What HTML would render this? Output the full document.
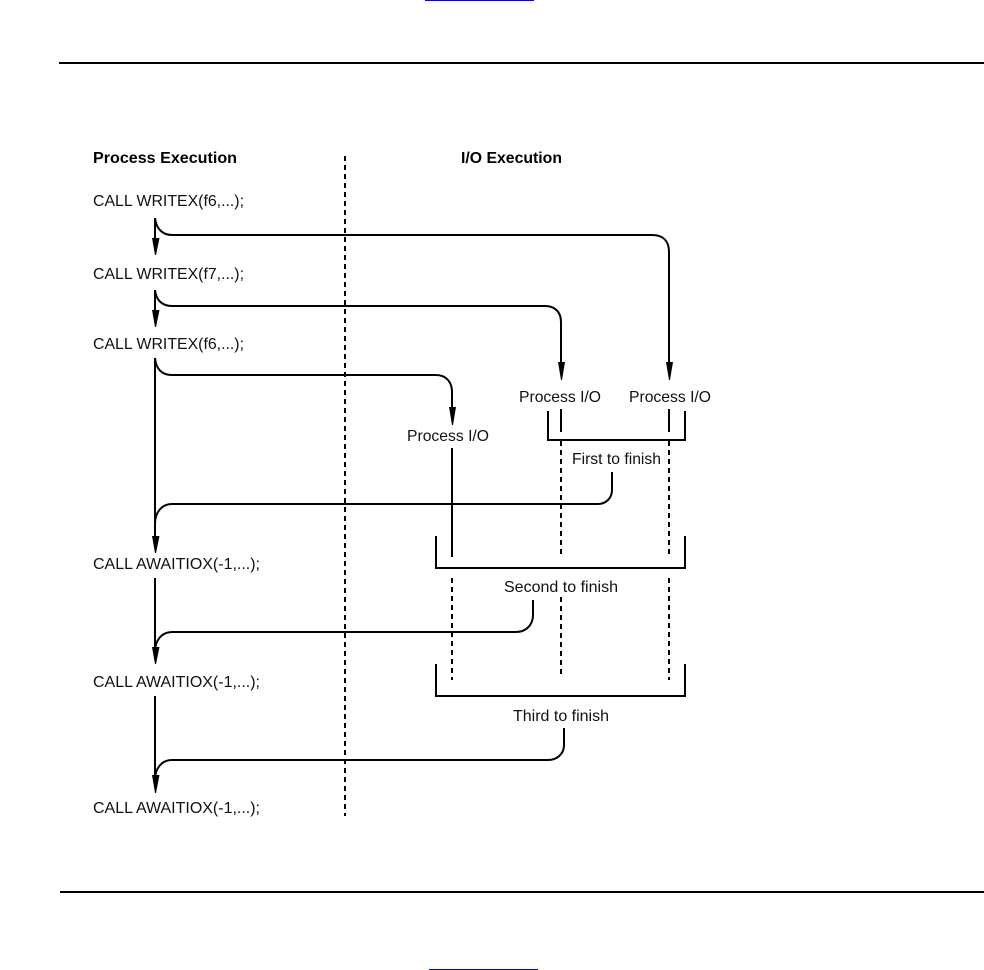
<!DOCTYPE html>
<html><head><meta charset="utf-8"><style>
html,body{margin:0;padding:0;background:#fff}
svg{display:block}
text{font-family:"Liberation Sans",sans-serif;font-size:16px;fill:#111}
.b{font-weight:bold;font-size:15.5px;fill:#000}
</style></head><body>
<svg width="984" height="970" viewBox="0 0 984 970" xmlns="http://www.w3.org/2000/svg">
<rect x="425" y="0" width="109" height="1" fill="#00f"/>
<rect x="429" y="969" width="109" height="1" fill="#00f"/>
<rect x="59" y="62" width="925" height="2" fill="#000"/>
<rect x="60" y="891" width="924" height="2" fill="#000"/>
<line x1="345" y1="156" x2="345" y2="816" stroke="#000" stroke-width="2" stroke-dasharray="5 4"/>
<g fill="none" stroke="#000" stroke-width="2">
<path d="M155 218V245"/>
<path d="M155 218C156 228 162 235 172 235H652C663 235 669 241 669 252V365"/>
<path d="M155 290V315"/>
<path d="M155 290C156 300 162 306 172 306H545C555 306 561 312 561 322V365"/>
<path d="M155 358V540"/>
<path d="M155 358C156 369 162 375 172 375H436C446 375 452 382 452 392V412"/>
<path d="M612 472V490C612 498 606 504 598 504H172C162 504 155 512 155 524"/>
<path d="M155 578V650"/>
<path d="M533 600V615C533 625 526 632 516 632H172C162 632 155 640 155 652"/>
<path d="M155 696V780"/>
<path d="M564 728V745C564 754 557 760 548 760H172C162 760 155 768 155 780"/>
<path d="M548 411V440H685V411"/>
<path d="M436 536V568H685V536"/>
<path d="M436 664V696H685V664"/>
<path d="M452 448V557"/>
<path d="M561 409V432M669 409V432"/>
<path stroke-dasharray="5 4" d="M561 441V555M669 441V555M452 578V680M561 597V675M669 578V680"/>
</g>
<g fill="#000">
<path d="M152 238H159.500L156 255H155Z"/>
<path d="M152 310H159.500L156 327H155Z"/>
<path d="M152 536H159.500L156 553H155Z"/>
<path d="M152 647H159.500L156 664H155Z"/>
<path d="M152 775H159.500L156 793H155Z"/>
<path d="M558 362H565L562 380H561Z"/>
<path d="M666 362H673L670 380H669Z"/>
<path d="M449 407H456L453 425H452Z"/>
</g>
<text class="b" x="93" y="163" textLength="144" lengthAdjust="spacingAndGlyphs">Process Execution</text>
<text class="b" x="461" y="163" textLength="101" lengthAdjust="spacingAndGlyphs">I/O Execution</text>
<text x="93" y="206" textLength="151" lengthAdjust="spacingAndGlyphs">CALL WRITEX(f6,...);</text>
<text x="93" y="279" textLength="151" lengthAdjust="spacingAndGlyphs">CALL WRITEX(f7,...);</text>
<text x="93" y="349" textLength="151" lengthAdjust="spacingAndGlyphs">CALL WRITEX(f6,...);</text>
<text x="93" y="569" textLength="167" lengthAdjust="spacingAndGlyphs">CALL AWAITIOX(-1,...);</text>
<text x="93" y="687" textLength="167" lengthAdjust="spacingAndGlyphs">CALL AWAITIOX(-1,...);</text>
<text x="93" y="813" textLength="167" lengthAdjust="spacingAndGlyphs">CALL AWAITIOX(-1,...);</text>
<text x="519" y="402" textLength="82" lengthAdjust="spacingAndGlyphs">Process I/O</text>
<text x="629" y="402" textLength="82" lengthAdjust="spacingAndGlyphs">Process I/O</text>
<text x="407" y="441" textLength="82" lengthAdjust="spacingAndGlyphs">Process I/O</text>
<text x="572" y="464" textLength="89" lengthAdjust="spacingAndGlyphs">First to finish</text>
<text x="504" y="592" textLength="114" lengthAdjust="spacingAndGlyphs">Second to finish</text>
<text x="513" y="721" textLength="96" lengthAdjust="spacingAndGlyphs">Third to finish</text>
</svg>
</body></html>
